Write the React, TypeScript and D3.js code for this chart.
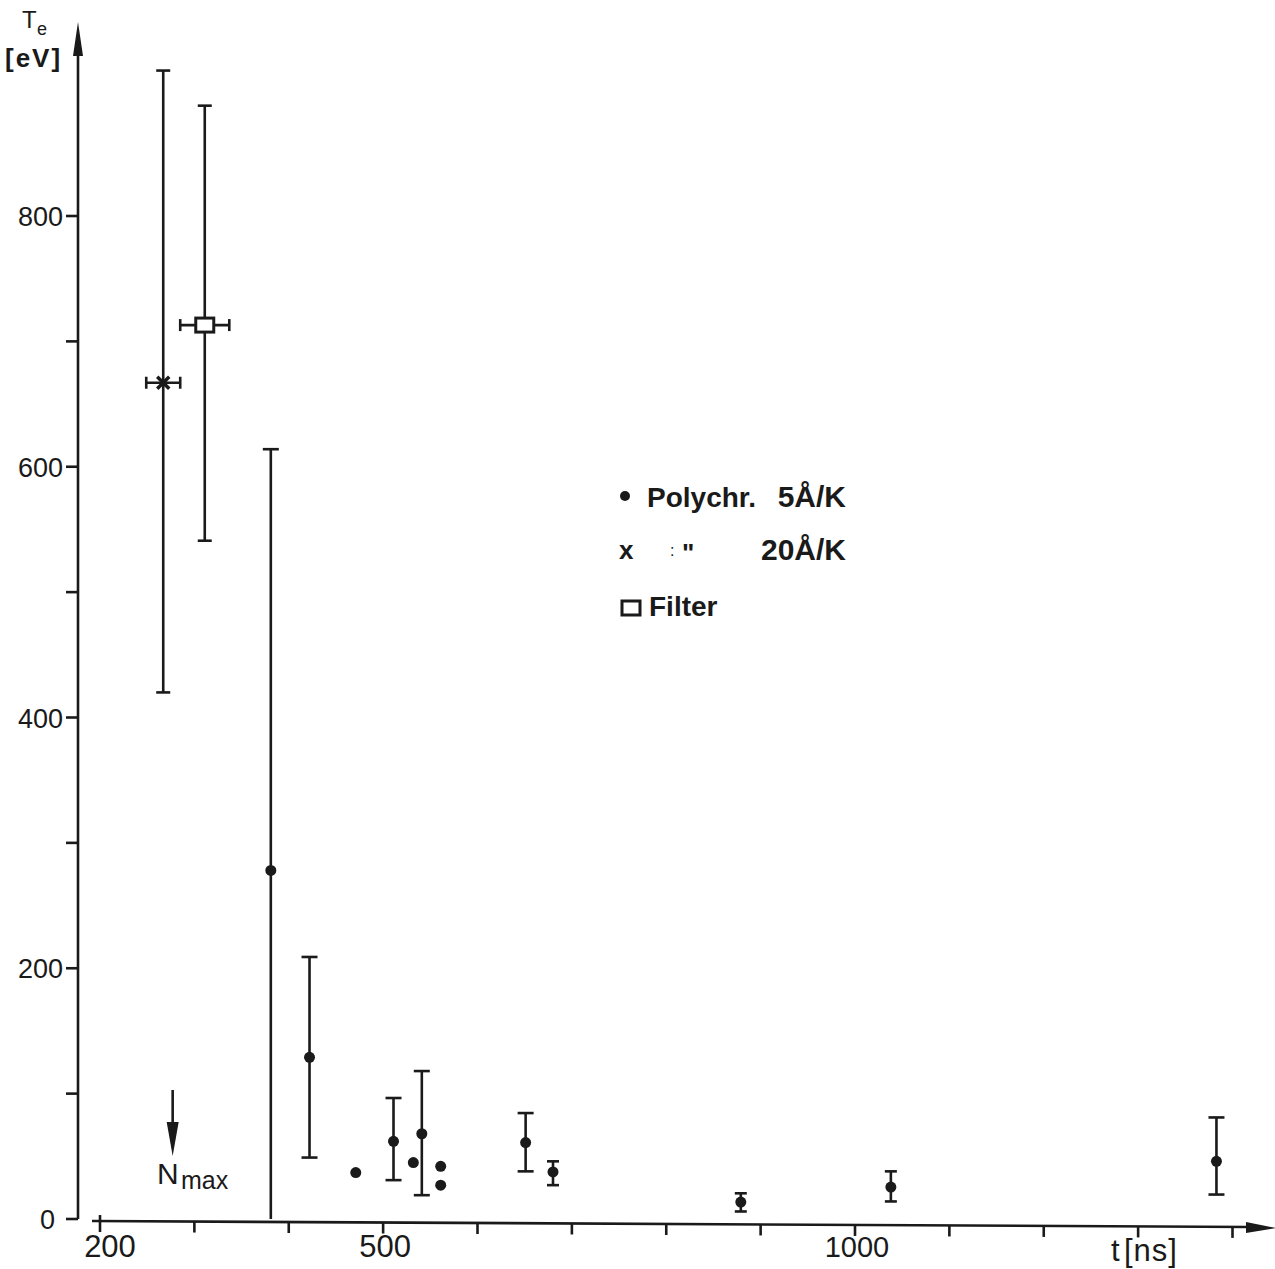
import React from "react";
import * as d3 from "d3";

// ---- data ----
// Polychromator 5 Å/K points: t [ns], Te [eV], error bar low/high (null = no bar)
const polyT = [381, 422, 471, 511, 532, 541, 561, 561, 651, 680, 879, 1038, 1383];
const polyTe = [278, 129, 37, 62, 45, 68, 42, 27, 61, 37.5, 13.5, 25.5, 46];
const polyLo = [0, 49, null, 31, null, 19, null, null, 38, 27, 6, 14, 19.5];
const polyHi = [614, 209, null, 96.5, null, 118, null, null, 84.5, 46, 20.5, 38, 81];

// Polychromator 20 Å/K (cross)
const crossT = [267];
const crossTe = [667];
const crossLo = [420];
const crossHi = [916];
const crossTErr = [18];

// Filter (square)
const filterT = [311];
const filterTe = [713];
const filterLo = [541];
const filterHi = [888];
const filterTErr = [26];

const xTicks = [200, 300, 400, 500, 600, 700, 800, 900, 1000, 1100, 1200, 1300, 1400];
const xLabels = [200, 500, 1000];
const yTicks = [0, 100, 200, 300, 400, 500, 600, 700, 800];
const yLabels = [0, 200, 400, 600, 800];
const nMaxT = 277;

const FONT = "'Liberation Sans', Arial, sans-serif";

export default function App() {
  const x = d3.scaleLinear().domain([200, 1000]).range([100, 855]);
  const y = d3.scaleLinear().domain([0, 800]).range([1219, 216]);
  const axisX = 78;
  const axisY = 1221;
  const sw = 2.6;
  const ink = "#1a1a1a";

  const vBar = (t: number, lo: number, hi: number, cap: number, key: string) => (
    <g key={key} stroke={ink} strokeWidth={sw}>
      <line x1={x(t)} x2={x(t)} y1={y(hi)} y2={y(lo)} />
      <line x1={x(t) - cap} x2={x(t) + cap} y1={y(hi)} y2={y(hi)} />
      {lo > 0 && <line x1={x(t) - cap} x2={x(t) + cap} y1={y(lo)} y2={y(lo)} />}
    </g>
  );
  const hBar = (t: number, v: number, e: number, key: string) => (
    <g key={key} stroke={ink} strokeWidth={sw}>
      <line x1={x(t - e)} x2={x(t + e)} y1={y(v)} y2={y(v)} />
      <line x1={x(t - e)} x2={x(t - e)} y1={y(v) - 6} y2={y(v) + 6} />
      <line x1={x(t + e)} x2={x(t + e)} y1={y(v) - 6} y2={y(v) + 6} />
    </g>
  );

  return (
    <svg width={1275} height={1269} style={{ position: "absolute", left: 0, top: 0, background: "#fff" }} fontFamily={FONT}>
      <rect width={1275} height={1269} fill="#fff" />
      {/* Y axis */}
      <line x1={axisX} x2={axisX} y1={y(0)} y2={40} stroke={ink} strokeWidth={sw} />
      <path d={`M${axisX},22 L${axisX - 5},56 L${axisX + 5},56 Z`} fill={ink} />
      {yTicks.map((v) => (
        <line key={"yt" + v} x1={axisX - 12} x2={axisX} y1={y(v)} y2={y(v)} stroke={ink} strokeWidth={sw} />
      ))}
      {yLabels.map((v) => (
        <text key={"yl" + v} x={v === 0 ? 55 : 63} y={y(v) + 10} textAnchor="end" fontSize={27} fill={ink}>
          {v}
        </text>
      ))}
      <text x={22} y={28} fontSize={24} fill={ink}>T</text>
      <text x={37} y={35} fontSize={18} fill={ink}>e</text>
      <text x={5} y={67} fontSize={26} fill={ink} fontWeight={600} letterSpacing={2}>[eV]</text>

      {/* X axis */}
      <line x1={92} x2={1250} y1={axisY} y2={axisY + 6} stroke={ink} strokeWidth={sw} />
      <path d={`M1276,${axisY + 7} L1246,${axisY + 1} L1246,${axisY + 12} Z`} fill={ink} />
      {xTicks.map((v) => (
        <line key={"xt" + v} x1={x(v)} x2={x(v)} y1={axisY + ((x(v) - 92) / 1158) * 6 - (v === 200 ? 6 : 0)}
          y2={axisY + ((x(v) - 92) / 1158) * 6 + 11} stroke={ink} strokeWidth={sw} />
      ))}
      {xLabels.map((v) => (
        <text key={"xl" + v} x={x(v) + (v === 200 ? 10 : 2)} y={1257} textAnchor="middle" fontSize={v === 1000 ? 29 : 31} fill={ink}>
          {v}
        </text>
      ))}
      <text x={1111} y={1261} fontSize={31} fill={ink}>t</text>
      <text x={1124} y={1261} fontSize={31} fill={ink} letterSpacing={1}>[ns]</text>

      {/* N max arrow */}
      <line x1={x(nMaxT)} x2={x(nMaxT)} y1={1090} y2={1125} stroke={ink} strokeWidth={2.6} />
      <path d={`M${x(nMaxT) - 6},1122 L${x(nMaxT) + 6},1122 L${x(nMaxT)},1156 Z`} fill={ink} />
      <text x={157} y={1184} fontSize={30} fill={ink}>N</text>
      <text x={181} y={1189} fontSize={25} fill={ink}>max</text>

      {/* Polychromator 5 Å/K */}
      {polyT.map((t, i) =>
        polyLo[i] !== null ? vBar(t, polyLo[i] as number, polyHi[i] as number, polyHi[i]! - polyLo[i]! < 30 ? 6 : 8, "pb" + i) : null
      )}
      {polyT.map((t, i) => (
        <circle key={"pd" + i} cx={x(t)} cy={y(polyTe[i])} r={5.5} fill={ink} />
      ))}

      {/* 20 Å/K cross */}
      {crossT.map((t, i) => (
        <g key={"c" + i}>
          {vBar(t, crossLo[i], crossHi[i], 7, "cb" + i)}
          {hBar(t, crossTe[i], crossTErr[i], "ch" + i)}
          <g stroke={ink} strokeWidth={3.5}>
            <line x1={x(t) - 6} x2={x(t) + 6} y1={y(crossTe[i]) - 6} y2={y(crossTe[i]) + 6} />
            <line x1={x(t) - 6} x2={x(t) + 6} y1={y(crossTe[i]) + 6} y2={y(crossTe[i]) - 6} />
          </g>
        </g>
      ))}

      {/* Filter square */}
      {filterT.map((t, i) => (
        <g key={"f" + i}>
          {vBar(t, filterLo[i], filterHi[i], 7, "fb" + i)}
          {hBar(t, filterTe[i], filterTErr[i], "fh" + i)}
          <rect x={x(t) - 9} y={y(filterTe[i]) - 7} width={18} height={14} fill="#fff" stroke={ink} strokeWidth={3} />
        </g>
      ))}

      {/* Legend */}
      <circle cx={625} cy={496} r={5} fill={ink} />
      <text x={647} y={507} fontSize={28} fontWeight={600} fill={ink}>Polychr.</text>
      <text x={846} y={507} fontSize={30} fontWeight={600} fill={ink} textAnchor="end">5Å/K</text>
      <text x={619} y={559} fontSize={26} fontWeight={600} fill={ink}>x</text>
      <text x={670} y={556} fontSize={16} fill={ink}>:</text>
      <text x={682} y={562} fontSize={26} fontWeight={600} fill={ink}>"</text>
      <text x={846} y={560} fontSize={30} fontWeight={600} fill={ink} textAnchor="end">20Å/K</text>
      <rect x={622} y={601} width={18} height={14} fill="#fff" stroke={ink} strokeWidth={3} />
      <text x={649} y={616} fontSize={28} fontWeight={600} fill={ink}>Filter</text>
    </svg>
  );
}
